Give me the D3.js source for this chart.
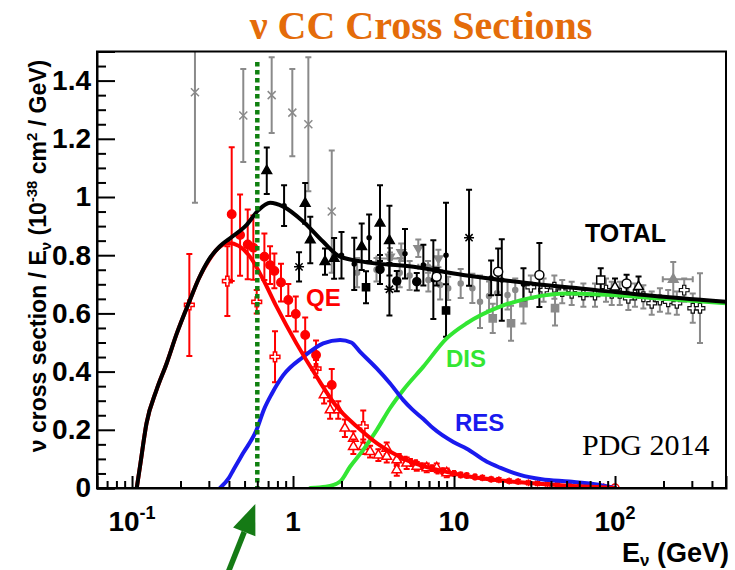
<!DOCTYPE html>
<html>
<head>
<meta charset="utf-8">
<script src="https://cdn.jsdelivr.net/npm/d3@7"></script>
<style>
  body { margin: 0; background: #fff; }
  svg { display: block; }
</style>
</head>
<body>
<svg id="chart" width="735" height="570"></svg>
<script>
// ---------- Model predictions: [E (GeV), sigma/E (1e-38 cm^2/GeV)] ----------
const totalCurve = [[0.107,0],[0.112,0.073],[0.123,0.222],[0.142,0.337],[0.164,0.428],[0.19,0.532],
  [0.229,0.646],[0.26,0.72],[0.30,0.785],[0.35,0.83],[0.406,0.858],[0.515,0.904],[0.61,0.955],
  [0.72,0.98],[0.87,0.967],[1.16,0.915],[1.54,0.846],[1.96,0.795],[2.7,0.778],[5.6,0.760],
  [11.4,0.732],[30,0.703],[77,0.680],[200,0.657],[490,0.640]];
const qeCurve = [[0.107,0],[0.112,0.073],[0.123,0.222],[0.142,0.337],[0.164,0.428],[0.19,0.532],
  [0.229,0.646],[0.26,0.72],[0.30,0.782],[0.34,0.822],[0.40,0.842],[0.46,0.832],[0.54,0.795],
  [0.65,0.718],[0.79,0.623],[1.05,0.497],[1.40,0.383],[1.87,0.279],[2.49,0.211],[3.31,0.154],
  [5.08,0.096],[9.9,0.050],[31,0.016],[100,0]];
const resCurve = [[0.352,0],[0.40,0.035],[0.426,0.062],[0.49,0.12],[0.594,0.20],[0.66,0.27],
  [0.74,0.325],[0.87,0.388],[1.16,0.451],[1.54,0.497],[1.96,0.509],[2.3,0.50],[2.61,0.468],
  [3.31,0.411],[4.0,0.36],[4.84,0.302],[5.5,0.27],[6.45,0.237],[7.43,0.205],[9.9,0.158],
  [12,0.135],[16,0.09],[19.3,0.07],[25.7,0.045],[35,0.03],[52,0.022],[75,0.013],[100,0]];
const disCurve = [[1.28,0],[1.6,0.004],[1.96,0.022],[2.26,0.073],[2.73,0.131],[3.31,0.199],
  [4.0,0.274],[4.84,0.337],[6.45,0.417],[9.0,0.514],[12,0.566],[19.3,0.623],[31,0.655],
  [50,0.668],[100,0.662],[200,0.65],[490,0.635]];

// ---------- Measurements: [E, sigma/E, error] or [E, sigma/E, error, E low, E high] ----------
const grayCrossPts = [[0.246,1.36,0.38],[0.491,1.28,0.16],[0.737,1.35,0.13],[0.99,1.29,0.15],
  [1.245,1.25,0.23],[1.74,0.95,0.21]];
const blackTriPts = [[0.687,1.09,0.08],[1.19,0.978,0.07],[1.28,0.852,0.08],[1.58,0.778,0.045],
  [1.80,0.789,0.07],[2.67,0.829,0.08],[3.47,0.91,0.13],[3.97,0.85,0.12]];
const blackBarPts = [[0.88,0.97,0.07],[2.0,0.80,0.08],[2.4,0.77,0.09],[2.97,0.86,0.08],
  [4.96,0.805,0.085],[6.45,0.766,0.07],[7.44,0.716,0.135],[8.92,0.80,0.18],[17.0,0.722,0.06],
  [19.8,0.715,0.14],[27.0,0.70,0.055]];
const blackStarPts = [[1.09,0.76,0.05],[3.97,0.683,0.09],[12.4,0.86,0.165]];
const blackCirclePts = [[3.47,0.751,0.05],[4.41,0.711,0.035],[5.87,0.709,0.03]];
const blackSquarePts = [[2.84,0.69,0.055],[8.92,0.61,0.09]];
const openCirclePts = [[7.8,0.726,0.03],[18.8,0.743,0.08],[33.9,0.732,0.11],[118,0.703,0.03]];
const openSquarePts = [[81.5,0.715,0.04]];
const openTriPts = [[100,0.69,0.03],[140,0.692,0.035]];
const grayTriHPts = [[230,0.717,0.06,198,304]];
const grayDownTriPts = [[4.0,0.795,0.03],[4.7,0.81,0.03],[6.0,0.824,0.03],[8.0,0.789,0.03]];
const grayHPts = [[4.0,0.789,0.02,3.3,4.9],[6.9,0.76,0.02,6.0,8.0]];
const grayDotPts = [[2.5,0.74,0.05],[3.3,0.75,0.04],[4.6,0.74,0.05],[5.3,0.73,0.05],
  [6.93,0.715,0.04],[8.2,0.698,0.05],[9.2,0.686,0.04],[11.0,0.703,0.05],[13.0,0.686,0.05],
  [14.5,0.64,0.09],[16.5,0.66,0.05],[18.5,0.669,0.05],[21.5,0.663,0.05],[24,0.68,0.04]];
const graySquarePts = [[17.4,0.583,0.05],[22.6,0.566,0.06],[27,0.635,0.07],[42.4,0.618,0.06]];
const openCrossPts = [[30,0.69,0.04],[36,0.68,0.04],[42,0.69,0.04],[47,0.675,0.04],
  [53.8,0.669,0.04],[63.6,0.663,0.04],[75.1,0.663,0.04],[87.9,0.68,0.04],[95.4,0.669,0.04],
  [107,0.669,0.04],[121,0.652,0.04],[133,0.663,0.04],[150,0.657,0.04],[169,0.635,0.04],
  [190,0.646,0.04],[214,0.64,0.04],[242,0.635,0.04],[269,0.68,0.04],[304,0.618,0.05],
  [337,0.618,0.12]];

const redCirclePts = [[0.416,0.941,0.23],[0.469,0.869,0.14],[0.523,0.837,0.12],[0.567,0.826,0.11],
  [0.664,0.795,0.08],[0.72,0.766,0.065],[0.766,0.746,0.06],[0.842,0.706,0.065],[0.935,0.646,0.055],
  [1.04,0.598,0.06],[1.19,0.526,0.06],[1.39,0.457,0.05],[1.74,0.354,0.055]];
const redCrossPts = [[0.227,0.629,0.175],[0.391,0.711,0.12],[0.595,0.640,0.04],[0.773,0.451,0.088],
  [1.39,0.41,0.03],[2.73,0.211,0.055]];
const redTriPts = [[1.56,0.32,0.03],[1.70,0.268,0.03],[1.91,0.268,0.03],[2.10,0.205,0.03],
  [2.37,0.17,0.025],[2.37,0.142,0.025],[2.73,0.142,0.025],[3.01,0.125,0.02],[3.39,0.113,0.02],
  [3.82,0.136,0.02],[3.82,0.108,0.02],[4.41,0.096,0.02],[5.08,0.085,0.02],[4.41,0.062,0.02],
  [5.87,0.074,0.015],[6.77,0.069,0.015],[7.81,0.069,0.015],[9.01,0.052,0.015]];
const redStarPts = [[4.6,0.105,0.012],[5.0,0.095,0.012],[5.4,0.088,0.012],[5.8,0.085,0.01],
  [6.3,0.075,0.01],[6.8,0.072,0.01],[7.3,0.068,0.01],[7.9,0.060,0.01],[8.5,0.058,0.01],
  [9.2,0.052,0.01],[10,0.050,0.008],[11,0.045,0.008],[12,0.043,0.008],[13.5,0.038,0.008],
  [15,0.035,0.007],[17,0.030,0.007],[19,0.028,0.006],[22,0.024,0.006],[25,0.022,0.006],
  [29,0.018,0.005],[33,0.016,0.005],[38,0.014,0.004],[44,0.012,0.004],[52,0.010,0.004],
  [60,0.008,0.003],[70,0.006,0.003],[85,0.004,0.003]];
const redEndPts = [[100,0.0,0]];

// ---------- Axis ticks ----------
const yMajorTicks = [0,0.2,0.4,0.6,0.8,1,1.2,1.4];
const xMajorTicks = [0.1,1,10,100];
const xTickLabels = [["10","-1"],["1",""],["10",""],["10","2"]];
const xMinorTicks = [0.07,0.08,0.09,0.2,0.3,0.4,0.5,0.6,0.7,0.8,0.9,2,3,4,5,6,7,8,9,
  20,30,40,50,60,70,80,90,200,300,400];

// ---------- Layout ----------
const frame = { left: 97, right: 726, top: 51.5, bottom: 488 };
const sans = "'Liberation Sans', Arial, Helvetica, sans-serif";
const serif = "'Liberation Serif', 'Times New Roman', serif";

const svg = d3.select("#chart");
const x = d3.scaleLog().domain([0.0606, 489]).range([frame.left, frame.right]);
const y = d3.scaleLinear().domain([0, 1.5]).range([frame.bottom, frame.top]);

svg.append("defs").append("clipPath").attr("id", "plotClip")
  .append("rect").attr("x", frame.left).attr("y", frame.top)
  .attr("width", frame.right - frame.left).attr("height", frame.bottom - frame.top);

// Title
svg.append("text").attr("x", 421).attr("y", 39).attr("text-anchor", "middle")
  .attr("font-family", serif).attr("font-weight", "bold").attr("font-size", 40)
  .attr("fill", "#E46C0A").text("ν CC Cross Sections");

const plot = svg.append("g").attr("clip-path", "url(#plotClip)");

// marker shapes
function markerPath(shape, s) {
  switch (shape) {
    case "circle": return d3.symbol(d3.symbolCircle, Math.PI * s * s)();
    case "triUp": return d3.symbol(d3.symbolTriangle, s * s * 1.6)();
    case "triDown": return d3.symbol(d3.symbolTriangle, s * s * 1.6)();
    case "square": return d3.symbol(d3.symbolSquare, s * s * 3.2)();
    case "cross": return d3.symbol(d3.symbolCross, s * s * 2.6)();
    case "x": return `M${-s},${-s}L${s},${s}M${-s},${s}L${s},${-s}`;
    case "star": {
      const d = s * 0.72;
      return `M${-s},0L${s},0M0,${-s}L0,${s}M${-d},${-d}L${d},${d}M${-d},${d}L${d},${-d}`;
    }
    default: return "";
  }
}

function drawSeries(pts, st) {
  const g = plot.append("g");
  const cap = st.cap === undefined ? 3 : st.cap;
  pts.forEach(p => {
    const cx = x(p[0]), cy = y(p[1]);
    let d = "";
    if (p[2] > 0) {
      const y1 = y(p[1] + p[2]), y2 = y(p[1] - p[2]);
      d += `M${cx},${y1}V${y2}`;
      if (cap > 0) d += `M${cx - cap},${y1}h${2 * cap}M${cx - cap},${y2}h${2 * cap}`;
    }
    if (p.length > 4) {
      const x1 = x(p[3]), x2 = x(p[4]);
      d += `M${x1},${cy}H${x2}`;
      if (cap > 0) d += `M${x1},${cy - cap}v${2 * cap}M${x2},${cy - cap}v${2 * cap}`;
    }
    if (d) g.append("path").attr("d", d).attr("fill", "none")
      .attr("stroke", st.bar).attr("stroke-width", st.barWidth || 2);
    g.append("path").attr("d", markerPath(st.shape, st.size))
      .attr("transform", `translate(${cx},${cy})` + (st.shape === "triDown" ? " rotate(180)" : ""))
      .attr("fill", st.fill).attr("stroke", st.stroke).attr("stroke-width", st.strokeWidth || 1.5);
  });
}

// data points
drawSeries(grayCrossPts,   { shape: "x", size: 4, fill: "none", stroke: "#8a8a8a", bar: "#8a8a8a" });
drawSeries(grayDotPts,     { shape: "circle", size: 2.5, fill: "#8a8a8a", stroke: "#8a8a8a", bar: "#8a8a8a" });
drawSeries(grayHPts,       { shape: "circle", size: 2.5, fill: "#8a8a8a", stroke: "#8a8a8a", bar: "#8a8a8a" });
drawSeries(grayDownTriPts, { shape: "triDown", size: 4.5, fill: "#8a8a8a", stroke: "#8a8a8a", bar: "#8a8a8a" });
drawSeries(graySquarePts,  { shape: "square", size: 4, fill: "#8a8a8a", stroke: "#8a8a8a", bar: "#8a8a8a" });
drawSeries(grayTriHPts,    { shape: "triUp", size: 5, fill: "#8a8a8a", stroke: "#8a8a8a", bar: "#8a8a8a" });
drawSeries(openCrossPts,   { shape: "cross", size: 4.5, fill: "#fff", stroke: "#111", bar: "#8a8a8a", strokeWidth: 1.2 });
drawSeries(blackBarPts,    { shape: "circle", size: 2, fill: "#000", stroke: "#000", bar: "#000" });
drawSeries(blackTriPts,    { shape: "triUp", size: 5, fill: "#000", stroke: "#000", bar: "#000" });
drawSeries(blackStarPts,   { shape: "star", size: 5, fill: "none", stroke: "#000", bar: "#000" });
drawSeries(blackCirclePts, { shape: "circle", size: 4, fill: "#000", stroke: "#000", bar: "#000" });
drawSeries(blackSquarePts, { shape: "square", size: 4, fill: "#000", stroke: "#000", bar: "#000" });
drawSeries(openCirclePts,  { shape: "circle", size: 4.5, fill: "#fff", stroke: "#000", bar: "#000" });
drawSeries(openSquarePts,  { shape: "square", size: 4.5, fill: "#fff", stroke: "#000", bar: "#000" });
drawSeries(openTriPts,     { shape: "triUp", size: 5, fill: "#fff", stroke: "#000", bar: "#000" });

drawSeries(redStarPts,     { shape: "star", size: 3.5, fill: "none", stroke: "#ff0000", bar: "#ff0000", cap: 2 });
drawSeries(redTriPts,      { shape: "triUp", size: 5, fill: "#fff", stroke: "#ff0000", bar: "#ff0000" });
drawSeries(redCrossPts,    { shape: "cross", size: 4.5, fill: "#fff", stroke: "#ff0000", bar: "#ff0000" });
drawSeries(redCirclePts,   { shape: "circle", size: 4.2, fill: "#ff0000", stroke: "#ff0000", bar: "#ff0000" });
drawSeries(redEndPts,      { shape: "circle", size: 4, fill: "none", stroke: "#ff0000", bar: "#ff0000" });

// model curves
const line = d3.line().x(d => x(d[0])).y(d => y(d[1])).curve(d3.curveMonotoneX);
[[disCurve, "#33e633"], [resCurve, "#1a1aee"], [qeCurve, "#ff0000"], [totalCurve, "#000"]]
  .forEach(([c, col]) => {
    plot.append("path").datum(c).attr("d", line).attr("fill", "none")
      .attr("stroke", col).attr("stroke-width", 4).attr("stroke-linejoin", "round")
      .attr("stroke-linecap", "round");
  });

// vertical marker at 0.6 GeV
plot.append("line").attr("x1", x(0.6)).attr("x2", x(0.6))
  .attr("y1", 62).attr("y2", frame.bottom)
  .attr("stroke", "#0f800f").attr("stroke-width", 4.5).attr("stroke-dasharray", "4.5,3.5");

// curve labels
svg.append("text").attr("x", 585).attr("y", 242).attr("font-family", sans)
  .attr("font-weight", "bold").attr("font-size", 25).attr("fill", "#000").text("TOTAL");
svg.append("text").attr("x", 306).attr("y", 306).attr("font-family", sans)
  .attr("font-weight", "bold").attr("font-size", 24).attr("fill", "#ff0000").text("QE");
svg.append("text").attr("x", 446).attr("y", 367).attr("font-family", sans)
  .attr("font-weight", "bold").attr("font-size", 24).attr("fill", "#33e633").text("DIS");
svg.append("text").attr("x", 455).attr("y", 431).attr("font-family", sans)
  .attr("font-weight", "bold").attr("font-size", 24).attr("fill", "#1a1aee").text("RES");
svg.append("text").attr("x", 582).attr("y", 455).attr("font-family", serif)
  .attr("font-size", 30).attr("fill", "#000").text("PDG 2014");

// ---------- Axes ----------
const yAxis = svg.append("g").attr("transform", `translate(${frame.left},0)`)
  .call(d3.axisLeft(y).tickValues(yMajorTicks).tickSize(-18).tickPadding(6)
    .tickFormat(d3.format("~g")));
svg.append("g").attr("transform", `translate(${frame.left},0)`)
  .call(d3.axisLeft(y).tickValues(d3.range(0.05, 1.5, 0.05).filter(v => Math.abs(v * 5 - Math.round(v * 5)) > 1e-6))
    .tickSize(-9).tickFormat(""))
  .call(g => g.select(".domain").remove());
yAxis.selectAll("text").attr("font-family", sans).attr("font-weight", "bold")
  .attr("font-size", 28).attr("fill", "#000");

const xAxis = svg.append("g").attr("transform", `translate(0,${frame.bottom})`)
  .call(d3.axisBottom(x).tickValues(xMajorTicks).tickSize(-12).tickFormat(""));
svg.append("g").attr("transform", `translate(0,${frame.bottom})`)
  .call(d3.axisBottom(x).tickValues(xMinorTicks).tickSize(-7).tickFormat(""))
  .call(g => g.select(".domain").remove());
svg.selectAll(".tick line").attr("stroke", "#000").attr("stroke-width", 2);
svg.selectAll(".domain").attr("stroke", "#000").attr("stroke-width", 2);

xMajorTicks.forEach((v, i) => {
  const t = svg.append("text").attr("x", x(v)).attr("y", 531).attr("text-anchor", "middle")
    .attr("font-family", sans).attr("font-weight", "bold").attr("font-size", 28).attr("fill", "#000");
  t.append("tspan").text(xTickLabels[i][0]);
  if (xTickLabels[i][1]) t.append("tspan").attr("dy", -12).attr("font-size", 18).text(xTickLabels[i][1]);
});

// frame
svg.append("rect").attr("x", frame.left).attr("y", frame.top)
  .attr("width", frame.right - frame.left).attr("height", frame.bottom - frame.top)
  .attr("fill", "none").attr("stroke", "#000").attr("stroke-width", 2);

// axis titles
const xt = svg.append("text").attr("x", 729).attr("y", 562).attr("text-anchor", "end")
  .attr("font-family", sans).attr("font-weight", "bold").attr("font-size", 27).attr("fill", "#000");
xt.append("tspan").text("E");
xt.append("tspan").attr("dy", 4).attr("font-size", 17).text("ν");
xt.append("tspan").attr("dy", -4).text(" (GeV)");

const yt = svg.append("text").attr("transform", "translate(46,256) rotate(-90)")
  .attr("text-anchor", "middle").attr("font-family", sans).attr("font-weight", "bold")
  .attr("font-size", 23).attr("fill", "#000");
yt.append("tspan").text("ν cross section / E");
yt.append("tspan").attr("dy", 5).attr("font-size", 15).text("ν");
yt.append("tspan").attr("dy", -5).text(" (10");
yt.append("tspan").attr("dy", -9).attr("font-size", 15).text("-38");
yt.append("tspan").attr("dy", 9).text(" cm");
yt.append("tspan").attr("dy", -9).attr("font-size", 15).text("2");
yt.append("tspan").attr("dy", 9).text(" / GeV)");

// arrow pointing at 0.6 GeV on the energy axis
const tipX = x(0.6) - 2, tipY = 504, tailX = tipX - 27, tailY = 572;
const len = Math.hypot(tipX - tailX, tipY - tailY);
const ux = (tipX - tailX) / len, uy = (tipY - tailY) / len;
const headL = 30, headW = 12;
const bx = tipX - ux * headL, by = tipY - uy * headL;
svg.append("line").attr("x1", tailX).attr("y1", tailY).attr("x2", bx).attr("y2", by)
  .attr("stroke", "#157a15").attr("stroke-width", 5.5);
svg.append("path")
  .attr("d", `M${tipX},${tipY}L${bx - uy * headW},${by + ux * headW}L${bx + uy * headW},${by - ux * headW}Z`)
  .attr("fill", "#157a15");
</script>
</body>
</html>
